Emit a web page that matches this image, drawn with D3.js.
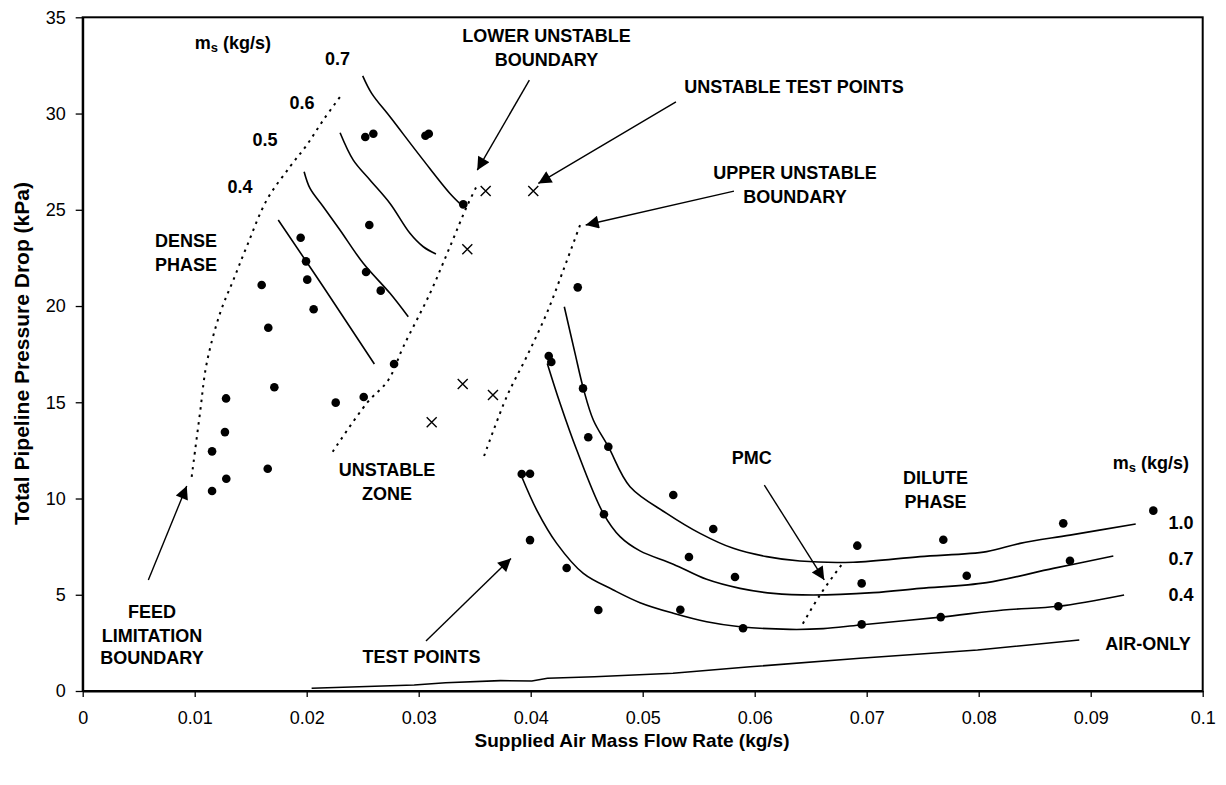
<!DOCTYPE html>
<html>
<head>
<meta charset="utf-8">
<script src="https://cdn.jsdelivr.net/npm/d3@7"></script>
<style>
  html, body { margin: 0; padding: 0; background: #fff; }
  svg { display: block; }
  text { font-family: "Liberation Sans", Arial, sans-serif; fill: #000; }
</style>
</head>
<body>
<svg id="chart" width="1226" height="785"></svg>
<script>
// ---- data: supplied air mass flow rate (kg/s) vs total pipeline pressure drop (kPa) ----
const xTicks = [0, 0.01, 0.02, 0.03, 0.04, 0.05, 0.06, 0.07, 0.08, 0.09, 0.1];
const xTickLabels = ["0", "0.01", "0.02", "0.03", "0.04", "0.05", "0.06", "0.07", "0.08", "0.09", "0.1"];
const yTicks = [0, 5, 10, 15, 20, 25, 30, 35];

// stable test points
const testPoints = [
  [0.01155, 10.39], [0.01282, 11.03], [0.01155, 12.45], [0.0127, 13.45], [0.0128, 15.2],
  [0.01652, 11.55], [0.01711, 15.78], [0.01657, 18.87], [0.01598, 21.09], [0.02062, 19.83],
  [0.02005, 21.37], [0.01994, 22.32], [0.01946, 23.55], [0.02259, 14.98], [0.02509, 15.27],
  [0.0278, 16.99], [0.02661, 20.8], [0.0253, 21.77], [0.02559, 24.21], [0.02523, 28.78],
  [0.02595, 28.95], [0.0306, 28.85], [0.0309, 28.95], [0.03398, 25.28],
  [0.0442, 20.97], [0.04161, 17.4], [0.04184, 17.09], [0.04467, 15.72], [0.04514, 13.18],
  [0.04693, 12.69], [0.0392, 11.27], [0.03994, 11.29], [0.05273, 10.18], [0.04654, 9.18],
  [0.0563, 8.42], [0.03994, 7.84], [0.05413, 6.96], [0.05824, 5.92], [0.04321, 6.39],
  [0.05336, 4.22], [0.04604, 4.21], [0.05896, 3.26], [0.06916, 7.55], [0.07684, 7.86],
  [0.08755, 8.71], [0.09559, 9.37], [0.06955, 5.59], [0.07893, 5.99], [0.08815, 6.77],
  [0.06955, 3.46], [0.07661, 3.84], [0.08711, 4.4]
];

// unstable test points
const unstablePoints = [
  [0.03598, 25.97], [0.04023, 25.97], [0.03434, 22.95],
  [0.03393, 15.95], [0.03663, 15.38], [0.03116, 13.96]
];

// dense-phase constant solids-flow curves, ms = 0.4 ... 0.7 kg/s
const dense04 = [[0.01746, 24.47], [0.02148, 21.0], [0.02604, 16.99]];
const dense05 = [[0.01977, 26.98], [0.0203, 26.11], [0.02148, 25.16], [0.02297, 23.95], [0.02505, 22.22], [0.02744, 20.66], [0.02907, 19.44]];
const dense06 = [[0.02298, 29.0], [0.02416, 27.58], [0.02565, 26.55], [0.02744, 25.33], [0.02922, 23.78], [0.03041, 23.08], [0.03154, 22.7]];
const dense07 = [[0.025, 31.96], [0.0258, 31.05], [0.02744, 29.83], [0.03041, 27.58], [0.03279, 25.85], [0.03398, 25.16]];

// dilute-phase constant solids-flow curves, ms = 1.0, 0.7, 0.4 kg/s
const dilute10 = [[0.043, 19.96], [0.04396, 17.54], [0.0447, 15.72], [0.04559, 14.08], [0.04693, 12.69], [0.04887, 10.61],
  [0.05214, 9.23], [0.05512, 8.19], [0.05809, 7.41], [0.06107, 6.98], [0.06404, 6.75], [0.0688, 6.69],
  [0.07476, 6.98], [0.08071, 7.24], [0.08369, 7.67], [0.08815, 8.1], [0.09402, 8.68]];
const dilute07 = [[0.04148, 17.02], [0.04262, 14.95], [0.04411, 12.52], [0.04648, 9.23], [0.04798, 8.02], [0.04976, 7.28],
  [0.05273, 6.59], [0.05571, 5.8], [0.05869, 5.33], [0.06166, 5.07], [0.06523, 4.99], [0.07059, 5.11],
  [0.07476, 5.33], [0.08071, 5.63], [0.08666, 6.37], [0.09202, 7.01]];
const dilute04 = [[0.0392, 11.13], [0.04054, 9.4], [0.04232, 7.67], [0.0447, 6.11], [0.04738, 5.25], [0.04976, 4.59],
  [0.05273, 4.04], [0.05571, 3.6], [0.05869, 3.34], [0.06315, 3.2], [0.06613, 3.24], [0.0694, 3.43],
  [0.07661, 3.84], [0.0822, 4.21], [0.08711, 4.4], [0.09298, 4.99]];

// empty pipeline
const airOnly = [[0.02044, 0.14], [0.0296, 0.31], [0.0324, 0.43], [0.0373, 0.54], [0.0401, 0.52], [0.0415, 0.66],
  [0.0457, 0.74], [0.0527, 0.92], [0.0596, 1.26], [0.0694, 1.7], [0.0799, 2.13], [0.08898, 2.65]];

// boundaries
const feedLimit = [[0.00973, 11.13], [0.01047, 14.43], [0.01107, 17.02], [0.01226, 19.62], [0.01345, 21.35], [0.01464, 23.08],
  [0.01643, 25.5], [0.01851, 27.24], [0.02, 28.36], [0.02148, 29.66], [0.02321, 31.05]];
const lowerUnstable = [[0.02232, 12.43], [0.02536, 14.95], [0.02729, 16.16], [0.02863, 17.89], [0.03101, 20.66],
  [0.03279, 23.08], [0.03429, 25.16], [0.03523, 26.29]];
const upperUnstable = [[0.03584, 12.21], [0.03786, 15.29], [0.03964, 17.37], [0.04143, 19.62], [0.043, 22.0], [0.04441, 24.21]];
const pmc = [[0.0643, 3.5], [0.06583, 4.99], [0.068, 6.75]];

// annotation arrows: [fromX, fromY, tipX, tipY]
const arrows = [
  [0.00586, 5.77, 0.00929, 10.65],
  [0.03988, 31.74, 0.03523, 27.06],
  [0.05297, 30.61, 0.04068, 26.37],
  [0.05815, 25.97, 0.04491, 24.21],
  [0.03065, 2.6, 0.03824, 6.89],
  [0.06086, 10.7, 0.06621, 5.77]
];

// text annotations: [x, y, text]
const notes = [
  [0.02275, 32.83, "0.7"], [0.01958, 30.55, "0.6"], [0.01628, 28.62, "0.5"], [0.01404, 26.18, "0.4"],
  [0.00922, 23.38, "DENSE"], [0.00922, 22.13, "PHASE"],
  [0.04141, 34.04, "LOWER UNSTABLE"], [0.04141, 32.78, "BOUNDARY"],
  [0.06351, 31.38, "UNSTABLE TEST POINTS"],
  [0.0636, 26.91, "UPPER UNSTABLE"], [0.0636, 25.66, "BOUNDARY"],
  [0.02717, 11.48, "UNSTABLE"], [0.02717, 10.23, "ZONE"],
  [0.00619, 4.12, "FEED"], [0.00619, 2.86, "LIMITATION"], [0.00619, 1.71, "BOUNDARY"],
  [0.03025, 1.78, "TEST POINTS"],
  [0.05973, 12.09, "PMC"],
  [0.07614, 11.06, "DILUTE"], [0.07614, 9.83, "PHASE"],
  [0.09806, 8.74, "1.0"], [0.09806, 6.84, "0.7"], [0.09806, 4.99, "0.4"],
  [0.09512, 2.44, "AIR-ONLY"]
];
// solids mass flow captions: [x, y]
const msCaptions = [[0.01342, 33.66], [0.09538, 11.83]];

// ---- layout ----
const svg = d3.select("#chart");
const margin = { left: 82.7, top: 17.3, right: 1226 - 1202.7, bottom: 785 - 691 };
const W = 1226 - margin.left - margin.right;
const H = 785 - margin.top - margin.bottom;

const x = d3.scaleLinear().domain([0, 0.1]).range([0, W]);
const y = d3.scaleLinear().domain([0, 35]).range([H, 0]);

const g = svg.append("g").attr("transform", `translate(${margin.left},${margin.top})`);

// plot frame
g.append("rect").attr("x", 0).attr("y", 0).attr("width", W).attr("height", H)
  .attr("fill", "none").attr("stroke", "#000").attr("stroke-width", 2);

// axes
const xAxis = g.append("g").attr("transform", `translate(0,${H})`)
  .call(d3.axisBottom(x).tickValues(xTicks).tickFormat((d, i) => xTickLabels[i]).tickSize(6).tickSizeOuter(0));
const yAxis = g.append("g")
  .call(d3.axisLeft(y).tickValues(yTicks).tickSize(7).tickSizeOuter(0));
[xAxis, yAxis].forEach(a => {
  a.select(".domain").attr("stroke", "#000").attr("stroke-width", 2);
  a.selectAll(".tick line").attr("stroke", "#000").attr("stroke-width", 1.3);
  a.selectAll(".tick text").attr("font-family", "Liberation Sans, Arial, sans-serif")
    .attr("font-size", 18).attr("fill", "#000");
});
xAxis.selectAll(".tick text").attr("dy", "0.71em").attr("y", 20);
yAxis.selectAll(".tick text").attr("x", -17);

// axis titles
svg.append("text").attr("x", 632).attr("y", 747)
  .attr("text-anchor", "middle").attr("font-weight", "bold").attr("font-size", 19)
  .text("Supplied Air Mass Flow Rate (kg/s)");
svg.append("text").attr("transform", "translate(29,353.5) rotate(-90)")
  .attr("text-anchor", "middle").attr("font-weight", "bold").attr("font-size", 19.5)
  .attr("textLength", 343).attr("lengthAdjust", "spacingAndGlyphs")
  .text("Total Pipeline Pressure Drop (kPa)");

// curves
const smooth = d3.line().x(d => x(d[0])).y(d => y(d[1])).curve(d3.curveCatmullRom.alpha(0.5));
const straight = d3.line().x(d => x(d[0])).y(d => y(d[1]));

[dense04, dense05, dense06, dense07, dilute10, dilute07, dilute04].forEach(s => {
  g.append("path").attr("d", smooth(s)).attr("fill", "none").attr("stroke", "#000").attr("stroke-width", 1.6);
});
g.append("path").attr("d", straight(airOnly)).attr("fill", "none").attr("stroke", "#000").attr("stroke-width", 1.6);

[feedLimit, lowerUnstable, upperUnstable, pmc].forEach(s => {
  g.append("path").attr("d", smooth(s)).attr("fill", "none").attr("stroke", "#000")
    .attr("stroke-width", 2).attr("stroke-dasharray", "2.5,5");
});

// test points
g.selectAll("circle.pt").data(testPoints).join("circle").attr("class", "pt")
  .attr("cx", d => x(d[0])).attr("cy", d => y(d[1])).attr("r", 4.3).attr("fill", "#000");

// unstable points
const cs = 5;
g.selectAll("path.ux").data(unstablePoints).join("path").attr("class", "ux")
  .attr("d", d => {
    const px = x(d[0]), py = y(d[1]);
    return `M${px - cs},${py - cs}L${px + cs},${py + cs}M${px - cs},${py + cs}L${px + cs},${py - cs}`;
  })
  .attr("stroke", "#000").attr("stroke-width", 1.4).attr("fill", "none");

// arrows
const defs = svg.append("defs");
defs.append("marker").attr("id", "head").attr("viewBox", "0 0 10 10")
  .attr("refX", 10).attr("refY", 5).attr("markerWidth", 16).attr("markerHeight", 13)
  .attr("markerUnits", "userSpaceOnUse").attr("orient", "auto")
  .append("path").attr("d", "M0,0L10,5L0,10Z").attr("fill", "#000");
g.selectAll("line.arrow").data(arrows).join("line").attr("class", "arrow")
  .attr("x1", d => x(d[0])).attr("y1", d => y(d[1]))
  .attr("x2", d => x(d[2])).attr("y2", d => y(d[3]))
  .attr("stroke", "#000").attr("stroke-width", 1.4).attr("marker-end", "url(#head)");

// labels
g.selectAll("text.note").data(notes).join("text").attr("class", "note")
  .attr("x", d => x(d[0])).attr("y", d => y(d[1]))
  .attr("text-anchor", "middle").attr("dominant-baseline", "central")
  .attr("font-weight", "bold").attr("font-size", 18).text(d => d[2]);

msCaptions.forEach(c => {
  const t = g.append("text").attr("x", x(c[0])).attr("y", y(c[1]))
    .attr("text-anchor", "middle").attr("dominant-baseline", "central")
    .attr("font-weight", "bold").attr("font-size", 18);
  t.append("tspan").text("m");
  t.append("tspan").attr("font-size", 13).attr("dy", 4).text("s");
  t.append("tspan").attr("dy", -4).text(" (kg/s)");
});
</script>
</body>
</html>
